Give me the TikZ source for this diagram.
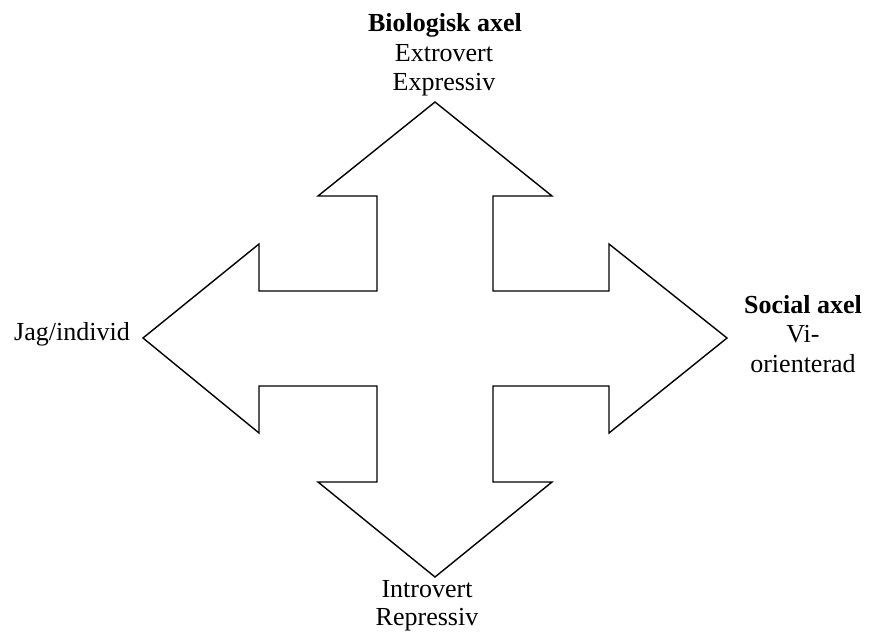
\documentclass[tikz,border=0pt]{standalone}
\usepackage{fontspec}
\setmainfont{Liberation Serif}
\begin{document}
\begin{tikzpicture}[x=1pt,y=-1pt,
  lbl/.style={anchor=base,inner sep=0pt,font=\fontsize{26}{29}\selectfont},
  blbl/.style={lbl,font=\fontsize{26}{29}\selectfont\bfseries},
  arrowshape/.style={draw=black,line width=1.4pt,line join=miter,fill=white}]
\useasboundingbox (0,0) rectangle (869,632);
\draw[arrowshape] (435,102) -- (552,196) -- (493,196) -- (493,291) -- (609,291) -- (609,244)
  -- (727,338) -- (609,433) -- (609,386) -- (493,386) -- (493,482) -- (552,482)
  -- (435,577) -- (318,482) -- (377,482) -- (377,386) -- (259,386) -- (259,433)
  -- (143,338) -- (259,244) -- (259,291) -- (377,291) -- (377,196) -- (318,196) -- cycle;
\node[blbl] (bio) at (445,31) {Biologisk axel};
\node[lbl] (extro) at (444,61) {Extrovert};
\node[lbl] (expr) at (444,90) {Expressiv};
\node[lbl] (intro) at (427,597) {Introvert};
\node[lbl] (repr) at (427,625) {Repressiv};
\node[lbl] (jag) at (72,340) {Jag/individ};
\node[blbl] (soc) at (803,313) {Social axel};
\node[lbl] (vi) at (803,342) {Vi-};
\node[lbl] (orient) at (803,372) {orienterad};
\end{tikzpicture}
\end{document}
